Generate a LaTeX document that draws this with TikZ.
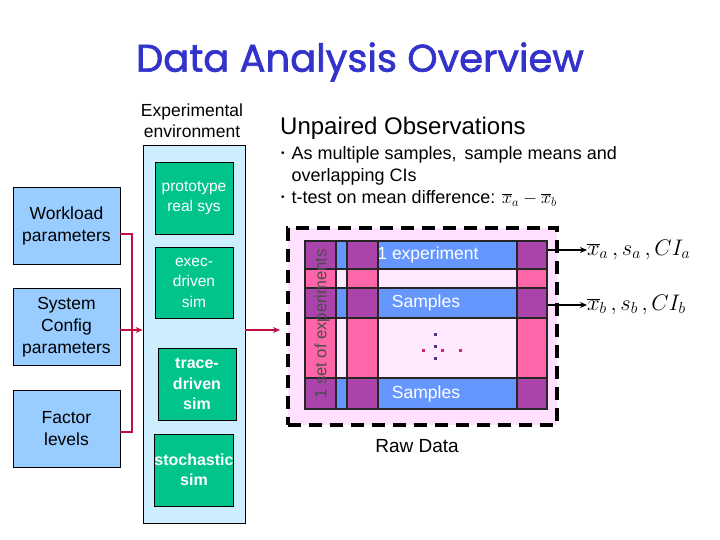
\RequirePackage{fix-cm}
\documentclass[tikz,border=0pt]{standalone}
\usepackage{fontspec}
\setmainfont{Liberation Sans}
\newfontfamily\titlefont{Poppins}[FakeBold=1.6]
\definecolor{main}{RGB}{51,51,204}
\definecolor{paramblue}{RGB}{153,204,255}
\definecolor{envblue}{RGB}{204,238,255}
\definecolor{simgreen}{RGB}{0,196,140}
\definecolor{linkred}{RGB}{192,16,64}
\definecolor{rowblue}{RGB}{102,150,255}
\definecolor{colpink}{RGB}{255,102,170}
\definecolor{cellpurple}{RGB}{170,68,170}
\definecolor{rawpink}{RGB}{255,224,255}
\definecolor{dotnavy}{RGB}{80,50,140}
\definecolor{dotpink}{RGB}{200,40,110}
\usetikzlibrary{
	arrows.meta,
	positioning
}
\newcommand{\cstbullet}{\raisebox{3pt}{\fontsize{10}{10}\selectfont\textbullet}}
\tikzset{
  % arrow
	cstra/.style      ={-{Stealth[length=7pt,width=6pt]}, line width=1.3pt},
	cstlink/.style    ={linkred, line width=2pt},
	cstlinkra/.style  ={cstlink, -{Stealth[length=7pt,width=6pt]}},
  % curve
	cstdash/.style    ={line width=4pt, dash pattern=on 13pt off 8pt},
	cstgrid/.style    ={draw=black!85, line width=1.2pt},
  % text
	csttitle/.style   ={text=main, font=\titlefont\fontsize{38.5}{42}\selectfont},
	csttext/.style    ={text=black, inner sep=0pt, font=\fontsize{17}{21.5}\selectfont},
  % node
	cstparam/.style   ={draw=black, fill=paramblue, line width=0.8pt, minimum width=107pt, minimum height=77pt, align=center, font=\fontsize{17.5}{22}\selectfont},
	cstenv/.style     ={draw=black, fill=envblue, line width=0.8pt, minimum width=102pt, minimum height=378pt},
	cstsim/.style     ={draw=black, fill=simgreen, text=white, line width=0.8pt, minimum width=78pt, minimum height=72pt, inner sep=0pt, align=center, font=\fontsize{15.5}{20.5}\selectfont},
	cstsimb/.style    ={cstsim, font=\bfseries\fontsize{16}{20.5}\selectfont},
	cstraw/.style     ={cstdash, draw=black, fill=rawpink, minimum width=269pt, minimum height=197pt},
	cstrow/.style     ={cstgrid, fill=rowblue, text=white, minimum width=242pt, minimum height=28pt, inner sep=0pt, font=\fontsize{17.5}{20}\selectfont},
	cstmath/.style    ={inner sep=0pt, font=\fontsize{22.5}{26}\selectfont}
}

\begin{document}
\begin{tikzpicture}[x=1pt,y=-1pt]
	\useasboundingbox[fill=white] (0,0) rectangle (720,540);
	\node[csttitle] (title) at (360,62) {Data Analysis Overview};
	% input parameters
	\node[cstparam] (wl) at (66.5,225.5) {Workload\\parameters};
	\node[cstparam] (sc) at (66.5,327) {System\\Config\\parameters};
	\node[cstparam] (fl) at (66.5,429) {Factor\\levels};
	% experimental environment
	\node[cstenv] (env) at (194,334) {};
	\node[csttext, align=center, font=\fontsize{17.5}{21.5}\selectfont] (envlabel) at (192,120.5) {Experimental\\environment};
	\node[cstsim] (proto) at (194,198) {prototype\\real sys};
	\node[cstsim, minimum height=71pt] (exec) at (194,282.5) {exec-\\driven\\sim};
	\node[cstsimb] (trace) at (197,384) {trace-\\driven\\sim};
	\node[cstsimb] (stoch) at (194,470) {stochastic\\sim};
	% raw data
	\node[cstraw] (rawbox) at (422.5,326.5) {};
	\node[csttext, font=\fontsize{19}{23}\selectfont] (rawlabel) at (417,446) {Raw Data};
	% red links
	\coordinate (bus) at (132,330);
	\draw[cstlink] ([yshift=-8pt]wl.east) -| (bus);
	\draw[cstlink] ([yshift=-3pt]fl.east) -| (bus);
	\draw[cstlinkra] ([yshift=-3pt]sc.east) -- (bus -| env.west);
	\draw[cstlinkra] (bus -| env.east) -- ([xshift=-6pt]bus -| rawbox.west);
	% grid of samples
	\filldraw[cstgrid, fill=rawpink!70] (305,241) rectangle (547,409);
	\node[cstrow] (exprow) at (426,255) {\hspace*{4pt}1 experiment};
	\node[cstrow, minimum height=30pt] (samprowa) at (426,303) {Samples};
	\node[cstrow, minimum height=31pt] (samprowb) at (426,393.5) {Samples};
	\foreach \xa/\xb in {305/336, 347/378, 517/547} {
		\filldraw[cstgrid, fill=colpink] (\xa,241) rectangle (\xb,409);
		\foreach \ya/\yb in {241/269, 288/318, 378/409}
			\filldraw[cstgrid, fill=cellpurple] (\xa,\ya) rectangle (\xb,\yb);
	}
	\draw[cstgrid] (305,241) rectangle (547,409);
	\node[csttext, rotate=90, text=black!70, font=\fontsize{16.6}{20}\selectfont] (setlabel) at (322,324) {1 set of experiments};
	\foreach \y in {334,346,358}
		\fill[dotnavy] (433.5,\y-1.5) rectangle +(3,3);
	\foreach \x in {423,442,460}
		\fill[dotpink] (\x-1.5,348.5) rectangle +(3,3);
	% statistics
	\node[cstmath, anchor=west] (stata) at (587,250) {$\overline{x}_a\,, s_a\,, CI_a$};
	\node[cstmath, anchor=west] (statb) at (587,305) {$\overline{x}_b\,, s_b\,, CI_b$};
	\draw[cstra] ([yshift=5pt]exprow.east) -- (stata.west);
	\draw[cstra] ([yshift=-2pt]samprowa.east) -- (statb.west);
	% unpaired observations
	\node[csttext, anchor=west, font=\fontsize{24}{28}\selectfont] (unpaired) at (280,128) {Unpaired Observations};
	\node[csttext, anchor=north west, font=\fontsize{18}{22}\selectfont] (bullets) at (281,144) {%
		\begin{tabular}{@{}l@{\hspace{7pt}}l@{}}
			\cstbullet & As multiple samples,\, sample means and\\
			& overlapping CIs\\
			\cstbullet & t-test on mean difference: $\overline{x}_a - \overline{x}_b$
		\end{tabular}};
\end{tikzpicture}
\end{document}
